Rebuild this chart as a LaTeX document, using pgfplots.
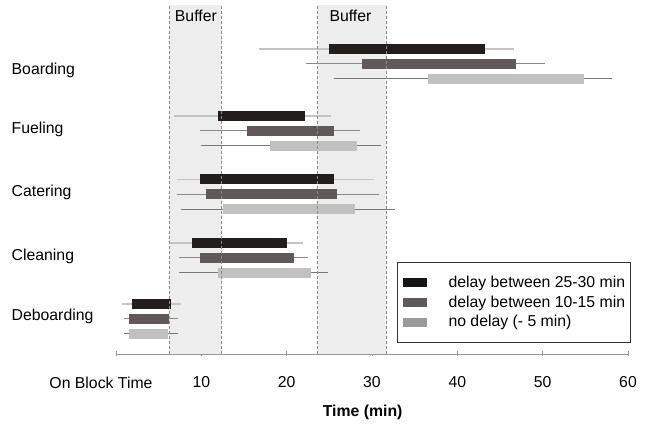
\documentclass[border=0pt]{standalone}
\usepackage{fontspec}
\setmainfont{Liberation Sans}
\usepackage{pgfplots}
\pgfplotsset{compat=1.18}
\definecolor{bdark}{HTML}{221E1D}
\definecolor{bmid}{HTML}{5F5A59}
\definecolor{blight}{HTML}{C1C1C1}
\definecolor{ldark}{HTML}{151515}
\definecolor{lmid}{HTML}{5F5A5A}
\definecolor{llight}{HTML}{9A9A9A}
\definecolor{wdark}{HTML}{C4C4C4}
\definecolor{wmid}{HTML}{8A8A8A}
\definecolor{wlight}{HTML}{777777}
\definecolor{bufffill}{HTML}{EDEDED}
\definecolor{buffline}{HTML}{8C8C8C}
\definecolor{axgray}{HTML}{999999}
\begin{document}
\fontsize{15.8}{18}\selectfont
\begin{tikzpicture}
\begin{axis}[
  scale only axis, width=512pt, height=354pt,
  xmin=0, xmax=60, ymin=0, ymax=354,
  clip=false,
  axis lines*=left,
  y axis line style={draw=none},
  x axis line style={draw=axgray, line width=0.8pt},
  xtick={0,10,20,30,40,50,60},
  xticklabels={\makebox[0pt]{On Block Time\hspace{30pt}},10,20,30,40,50,60},
  xtick style={draw=axgray, line width=0.6pt},
  tick align=center, major tick length=5pt,
  xticklabel style={yshift=-15pt},
  ytick={284,225,162,97.5,38},
  yticklabels={Boarding,Fueling,Catering,Cleaning,Deboarding},
  ytick style={draw=none},
  yticklabel style={anchor=west, xshift=-102pt, inner sep=0pt},
  xlabel={\textbf{Time (min)}},
  xlabel style={at={(axis description cs:0.4817,-0.165)}, anchor=center},
  unbounded coords=jump,
  legend style={at={(axis description cs:0.5495,0.259)}, anchor=north west,
    draw=black!80, line width=1pt, inner xsep=5pt, inner ysep=13pt, row sep=6pt,
    nodes={inner sep=0pt},
    /tikz/every odd column/.append style={column sep=21.7pt}},
  legend cell align=left,
]
% buffer zones
\addplot[fill=bufffill, draw=none, forget plot] coordinates {(6.2,0) (12.4,0) (12.4,349) (6.2,349)};
\addplot[fill=bufffill, draw=none, forget plot] coordinates {(23.6,0) (31.7,0) (31.7,349) (23.6,349)};
\node at (axis cs:9.36,338) {Buffer};
\node at (axis cs:27.48,338) {Buffer};

% whiskers
\addplot[wdark, line width=1.5pt, forget plot] table {
x y
16.7 305
46.6 305
nan nan
6.8 238
25.2 238
nan nan
7.1 174.5
30.2 174.5
nan nan
6.3 111
21.9 111
nan nan
0.74 50
7.56 50
};
\addplot[wmid, line width=1pt, forget plot] table {
x y
22.3 290
50.3 290
nan nan
9.85 223
28.6 223
nan nan
7.1 159.5
30.8 159.5
nan nan
7.4 96
22.5 96
nan nan
0.98 35
7.3 35
};
\addplot[wlight, line width=1pt, forget plot] table {
x y
25.6 275
58.1 275
nan nan
10.0 208
31.1 208
nan nan
7.6 144.5
32.7 144.5
nan nan
7.4 81
24.8 81
nan nan
0.98 20
7.3 20
};

% bars
\addplot[bdark, line width=10pt, forget plot] table {
x y
25.0 305
43.2 305
nan nan
12.0 238
22.2 238
nan nan
9.9 174.5
25.5 174.5
nan nan
8.9 111
20.0 111
nan nan
1.84 50
6.49 50
};
\addplot[bmid, line width=10pt, forget plot] table {
x y
28.8 290
46.9 290
nan nan
15.4 223
25.6 223
nan nan
10.5 159.5
25.9 159.5
nan nan
9.8 96
20.9 96
nan nan
1.56 35
6.2 35
};
\addplot[blight, line width=10pt, forget plot] table {
x y
36.6 275
54.8 275
nan nan
18.05 208
28.2 208
nan nan
12.5 144.5
28.0 144.5
nan nan
11.9 81
22.9 81
nan nan
1.56 20
6.1 20
};

% dashed buffer borders
\addplot[buffline, line width=0.8pt, dash pattern=on 3pt off 2pt, forget plot] table {
x y
6.2 0
6.2 349
nan nan
12.4 0
12.4 349
nan nan
23.6 0
23.6 349
nan nan
31.7 0
31.7 349
};

\addlegendimage{legend image code/.code={\fill[ldark] (0pt,-3.75pt) rectangle (23pt,3.75pt);}}
\addlegendentry{delay between 25-30 min}
\addlegendimage{legend image code/.code={\fill[lmid] (0pt,-3.75pt) rectangle (23pt,3.75pt);}}
\addlegendentry{delay between 10-15 min}
\addlegendimage{legend image code/.code={\fill[llight] (0pt,-3.75pt) rectangle (23pt,3.75pt);}}
\addlegendentry{no delay (- 5 min)}

\coordinate (O) at (axis cs:0,0);
\end{axis}
\pgfresetboundingbox
\path ([shift={(-116pt,-71pt)}]O) rectangle ([shift={(535pt,354pt)}]O);
\end{tikzpicture}
\end{document}
